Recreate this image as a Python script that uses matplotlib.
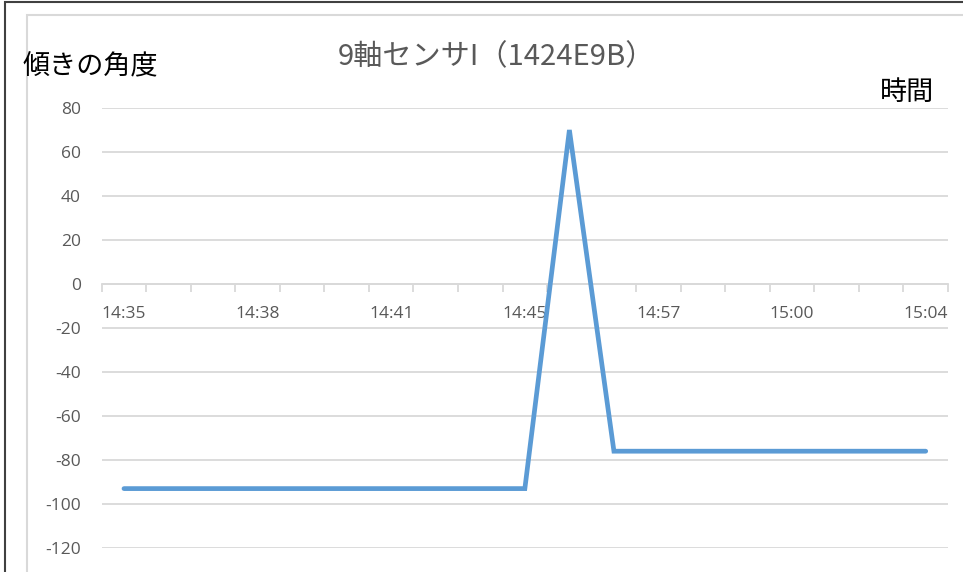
import matplotlib
matplotlib.use("Agg")
import matplotlib.pyplot as plt
from matplotlib.patches import Rectangle
from matplotlib.ticker import FixedLocator, NullFormatter, FixedFormatter

# ---- data ----
times = ["14:35", "14:36", "14:37", "14:38", "14:39", "14:40", "14:41", "14:42",
         "14:44", "14:45", "14:51", "14:56", "14:57", "14:58", "14:59", "15:00",
         "15:01", "15:03", "15:04"]
angles = [-93, -93, -93, -93, -93, -93, -93, -93, -93, -93,
          70,
          -76, -76, -76, -76, -76, -76, -76, -76]
label_every = 3
yticks = [-120, -100, -80, -60, -40, -20, 0, 20, 40, 60, 80]

title = "9軸センサI（1424E9B）"
ylabel = "傾きの角度"
xlabel = "時間"

W, H = 963, 572
fig = plt.figure(figsize=(W / 100, H / 100), dpi=100)
fig.patch.set_facecolor("white")

# outer and inner frames
fig.patches.append(Rectangle((5 / W, -0.2), 2.0, 1.2 - 2 / H, transform=fig.transFigure,
                             fill=False, edgecolor="#404040", linewidth=1.5, zorder=0))
fig.patches.append(Rectangle((27 / W, -0.2), 2.0, 1.2 - 15 / H, transform=fig.transFigure,
                             fill=False, edgecolor="#D9D9D9", linewidth=1.5, zorder=0))

left, right = 101.7 / W, 948 / W
top, bottom = 1 - 108 / H, 1 - 548 / H
ax = fig.add_axes([left, bottom, right - left, top - bottom])
ax.set_facecolor("none")

n = len(times)
x = list(range(n))
ax.plot(x, angles, color="#5B9BD5", linewidth=3.4, solid_capstyle="round",
        solid_joinstyle="miter", zorder=3)

ax.set_xlim(-0.5, n - 0.5)
ax.set_ylim(yticks[0], yticks[-1])
ax.set_yticks(yticks)
ax.set_yticklabels([str(v) for v in yticks])
ax.grid(axis="y", color="#D9D9D9", linewidth=1.3)
ax.set_axisbelow(True)

for s in ["top", "right", "left"]:
    ax.spines[s].set_visible(False)
ax.spines["bottom"].set_position(("data", 0))
ax.spines["bottom"].set_color("#D9D9D9")
ax.spines["bottom"].set_linewidth(1.3)

# major ticks at category boundaries, labels on minor ticks at category centres
ax.xaxis.set_major_locator(FixedLocator([i - 0.5 for i in range(n + 1)]))
ax.xaxis.set_major_formatter(NullFormatter())
lab_pos = list(range(0, n, label_every))
ax.xaxis.set_minor_locator(FixedLocator(lab_pos))
ax.xaxis.set_minor_formatter(FixedFormatter([times[i] for i in lab_pos]))
ax.tick_params(axis="x", which="major", direction="out", length=6, width=1.3, color="#D9D9D9")
ax.tick_params(axis="x", which="minor", length=0, pad=16, labelsize=12.5, labelcolor="#595959")
for lbl in ax.xaxis.get_minorticklabels():
    lbl.set_fontfamily(["Open Sans", "DejaVu Sans"])
ax.tick_params(axis="y", length=0, pad=15, labelsize=12.5, labelcolor="#595959")
for lbl in ax.get_yticklabels():
    lbl.set_fontfamily(["Open Sans", "DejaVu Sans"])

cjk = ["Noto Sans CJK JP", "DejaVu Sans"]
fig.text(496 / W, 1 - 57 / H, title, ha="center", va="center", fontsize=21,
         color="#595959", family=cjk)
fig.text(22 / W, 1 - 67 / H, ylabel, ha="left", va="center", fontsize=19.5,
         color="black", family=cjk)
fig.text(934 / W, 1 - 92 / H, xlabel, ha="right", va="center", fontsize=19.5,
         color="black", family=cjk)

fig.savefig("out.png", dpi=100)
